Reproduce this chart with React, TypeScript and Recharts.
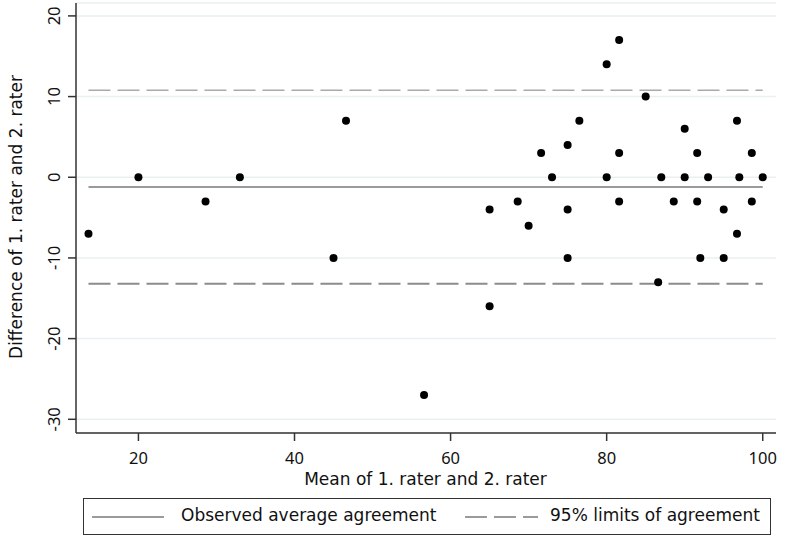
import React from "react";
import {
  ScatterChart,
  Scatter,
  XAxis,
  YAxis,
  CartesianGrid,
  ReferenceLine,
} from "recharts";

// mean of the two raters (x) and their difference (y)
const means = [
  13.6, 20, 28.6, 33, 45, 46.6, 56.6, 65, 65, 68.6, 70, 71.6, 73, 75, 75, 75,
  76.5, 80, 80, 81.6, 81.6, 81.6, 85, 86.6, 87, 88.6, 90, 90, 91.6, 91.6, 92,
  93, 95, 95, 96.7, 96.7, 97, 98.6, 98.6, 100,
];
const diffs = [
  -7, 0, -3, 0, -10, 7, -27, -4, -16, -3, -6, 3, 0, 4, -4, -10, 7, 14, 0, 17,
  3, -3, 10, -13, 0, -3, 6, 0, 3, -3, -10, 0, -4, -10, 7, -7, 0, 3, -3, 0,
];

const meanDiff = -1.2;
const upperLimit = 10.8;
const lowerLimit = -13.2;

const xTicks = [20, 40, 60, 80, 100];
const yTicks = [-30, -20, -10, 0, 10, 20];

const points = means.map((x, i) => ({ x, y: diffs[i] }));
const minX = Math.min(...means);
const maxX = Math.max(...means);

const FONT = "'Noto Sans', sans-serif";
const TEXT_FONT = "'DejaVu Sans', sans-serif";
const AXIS = "#333";
const LINE = "#9a9a9a";

const XTick = (props: any) => (
  <text
    x={props.x}
    y={464}
    textAnchor="middle"
    fontSize={16.5}
    fontFamily={FONT}
    fill="#111"
  >
    {props.payload.value}
  </text>
);

const YTick = (props: any) => (
  <text
    transform={`translate(60, ${props.y}) rotate(-90)`}
    textAnchor="middle"
    fontSize={16.5}
    fontFamily={FONT}
    fill="#111"
  >
    {props.payload.value}
  </text>
);

const Dot = (props: any) => (
  <circle cx={props.cx} cy={props.cy} r={4} fill="#000" />
);

export default function App() {
  return (
    <div
      style={{
        position: "absolute",
        left: 0,
        top: 0,
        width: 787,
        height: 541,
        background: "#fff",
        fontFamily: TEXT_FONT,
      }}
    >
      <ScatterChart
        width={787}
        height={541}
        margin={{ top: 3, right: 11, left: 0, bottom: 0 }}
      >
        <CartesianGrid horizontal vertical={false} stroke="#e9f0f1" strokeWidth={1.5} />
        <XAxis
          type="number"
          dataKey="x"
          domain={[12, 101.7]}
          ticks={xTicks}
          height={108}
          tickSize={8}
          stroke={AXIS}
          strokeWidth={1.5}
          tick={<XTick />}
          allowDataOverflow
        />
        <YAxis
          type="number"
          dataKey="y"
          domain={[-31.7, 21.6]}
          ticks={yTicks}
          width={76}
          tickSize={8}
          stroke={AXIS}
          strokeWidth={1.5}
          tick={<YTick />}
          allowDataOverflow
        />
        <ReferenceLine
          segment={[
            { x: minX, y: upperLimit },
            { x: maxX, y: upperLimit },
          ]}
          stroke="#aaa"
          strokeWidth={1.5}
          strokeDasharray="22 7"
        />
        <ReferenceLine
          segment={[
            { x: minX, y: lowerLimit },
            { x: maxX, y: lowerLimit },
          ]}
          stroke="#8c8c8c"
          strokeWidth={2}
          strokeDasharray="22 7"
        />
        <ReferenceLine
          segment={[
            { x: minX, y: meanDiff },
            { x: maxX, y: meanDiff },
          ]}
          stroke={LINE}
          strokeWidth={2}
        />
        <Scatter data={points} shape={<Dot />} isAnimationActive={false} />
        <text
          x={425.5}
          y={485}
          textAnchor="middle"
          fontSize={17}
          fontFamily={TEXT_FONT}
          fill="#111"
        >
          Mean of 1. rater and 2. rater
        </text>
        <text
          transform="translate(21.5, 217) rotate(-90)"
          textAnchor="middle"
          fontSize={17}
          fontFamily={TEXT_FONT}
          fill="#111"
        >
          Difference of 1. rater and 2. rater
        </text>
      </ScatterChart>
      <div
        style={{
          position: "absolute",
          left: 83,
          top: 498,
          width: 686,
          height: 35,
          border: "1px solid #333",
          fontSize: 17,
          color: "#111",
        }}
      >
        <svg
          width={80}
          height={10}
          style={{ position: "absolute", left: 8, top: 13 }}
        >
          <line x1={0} y1={5} x2={72} y2={5} stroke={LINE} strokeWidth={2} />
        </svg>
        <span style={{ position: "absolute", left: 97, top: 6, whiteSpace: "nowrap" }}>
          Observed average agreement
        </span>
        <svg
          width={80}
          height={10}
          style={{ position: "absolute", left: 381, top: 13 }}
        >
          <line
            x1={0}
            y1={5}
            x2={73}
            y2={5}
            stroke={LINE}
            strokeWidth={2}
            strokeDasharray="22 7"
          />
        </svg>
        <span style={{ position: "absolute", left: 466, top: 6, whiteSpace: "nowrap" }}>
          95% limits of agreement
        </span>
      </div>
    </div>
  );
}
